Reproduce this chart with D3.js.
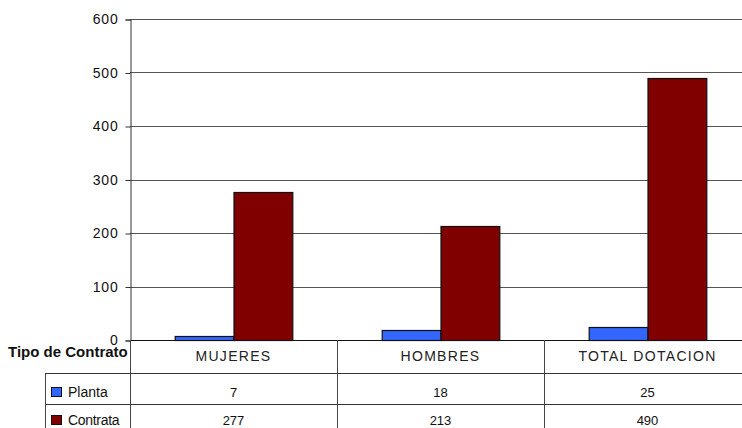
<!DOCTYPE html>
<html>
<head>
<meta charset="utf-8">
<script src="https://cdn.jsdelivr.net/npm/d3@7"></script>
<style>
body { margin: 0; background: #fff; }
svg { font-family: "Liberation Sans", Arial, sans-serif; }
</style>
</head>
<body>
<script>
var categories = ["MUJERES", "HOMBRES", "TOTAL DOTACION"];
var series = ["Planta", "Contrata"];
var planta = [7, 18, 25];
var contrata = [277, 213, 490];
var yTicks = [0, 100, 200, 300, 400, 500, 600];
var colors = ["#3366ff", "#800000"];

var W = 742, H = 428;
var margin = {l: 130, t: 19, r: -9};
var plotBottom = 340;

var svg = d3.select("body").append("svg")
    .attr("width", W)
    .attr("height", H);

var x = d3.scaleBand()
    .domain(categories)
    .range([margin.l, W - margin.r]);

var xi = d3.scaleBand()
    .domain(series)
    .range([0, x.bandwidth()])
    .paddingInner(0)
    .paddingOuter(0.76);

var y = d3.scaleLinear()
    .domain([0, 600])
    .range([plotBottom, margin.t]);

// gridlines
svg.append("g").selectAll("line")
    .data(yTicks.slice(1))
    .enter()
    .append("line")
    .attr("x1", margin.l)
    .attr("x2", W)
    .attr("y1", function (d) { return Math.round(y(d)) + 0.5 })
    .attr("y2", function (d) { return Math.round(y(d)) + 0.5 })
    .style("stroke", "#555")
    .style("stroke-width", 1);

// y axis
var yAxis = svg.append("g")
    .attr("transform", "translate(" + (margin.l + 0.5) + ",0.5)")
    .call(d3.axisLeft(y).tickValues(yTicks).tickSize(5).tickPadding(7));
yAxis.select(".domain").attr("stroke", "#333");
yAxis.selectAll(".tick line").attr("stroke", "#333");
yAxis.selectAll("text")
    .style("font-size", "14px")
    .style("letter-spacing", "0.8px")
    .style("fill", "#111")
    .attr("font-family", null);

// bars
var data = categories.map(function (c, i) {
    return {cat: c, vals: [planta[i], contrata[i]]};
});

var groups = svg.append("g").selectAll("g")
    .data(data)
    .enter()
    .append("g")
    .attr("transform", function (d) { return "translate(" + x(d.cat) + ",0)" });

groups.selectAll("rect")
    .data(function (d) { return d.vals.map(function (v, j) { return {s: series[j], v: v, j: j} }) })
    .enter()
    .append("rect")
    .attr("x", function (d) { return xi(d.s) + 0.5 })
    .attr("y", function (d) { return Math.round(y(d.v)) + 0.5 })
    .attr("width", xi.bandwidth())
    .attr("height", function (d) { return plotBottom - Math.round(y(d.v)) })
    .attr("fill", function (d) { return colors[d.j] })
    .attr("stroke", "#111")
    .attr("stroke-width", 1.2);

// data table
var rowTop = [340, 373, 404, 435];
var tableLeft = 45;

var tbl = svg.append("g");

// horizontal lines
tbl.append("line")
    .attr("x1", margin.l).attr("x2", W)
    .attr("y1", rowTop[0] + 0.5).attr("y2", rowTop[0] + 0.5)
    .style("stroke", "#111");
[1, 2].forEach(function (r) {
    tbl.append("line")
        .attr("x1", tableLeft).attr("x2", W)
        .attr("y1", rowTop[r] + 0.5).attr("y2", rowTop[r] + 0.5)
        .style("stroke", "#333");
});
// vertical lines
tbl.append("line")
    .attr("x1", tableLeft + 0.5).attr("x2", tableLeft + 0.5)
    .attr("y1", rowTop[1]).attr("y2", H)
    .style("stroke", "#444");
tbl.append("line")
    .attr("x1", margin.l + 0.5).attr("x2", margin.l + 0.5)
    .attr("y1", rowTop[0]).attr("y2", H)
    .style("stroke", "#444");
tbl.selectAll(".vsep")
    .data(categories.slice(1))
    .enter()
    .append("line")
    .attr("class", "vsep")
    .attr("x1", function (d) { return Math.round(x(d)) + 0.5 })
    .attr("x2", function (d) { return Math.round(x(d)) + 0.5 })
    .attr("y1", rowTop[0]).attr("y2", H)
    .style("stroke", "#444");

// header texts
tbl.selectAll(".hdr")
    .data(categories)
    .enter()
    .append("text")
    .attr("class", "hdr")
    .attr("x", function (d) { return x(d) + x.bandwidth() / 2 })
    .attr("y", 361)
    .attr("text-anchor", "middle")
    .style("font-size", "14px")
    .style("letter-spacing", "1.3px")
    .style("fill", "#222")
    .text(function (d) { return d });

tbl.append("text")
    .attr("x", 8)
    .attr("y", 357)
    .style("font-size", "15px")
    .style("font-weight", "bold")
    .style("fill", "#111")
    .text("Tipo de Contrato");

// series rows
var rowBase = [397, 425];
rowBase.forEach(function (base, r) {
    var vals = r === 0 ? planta : contrata;
    tbl.append("rect")
        .attr("x", 51.5)
        .attr("y", base - 9.5)
        .attr("width", 10)
        .attr("height", 9)
        .attr("fill", colors[r])
        .attr("stroke", "#111");
    tbl.append("text")
        .attr("x", 68)
        .attr("y", base)
        .style("font-size", "14px")
        .style("letter-spacing", r === 1 ? "-0.3px" : "0px")
        .style("fill", "#111")
        .text(series[r]);
    tbl.selectAll(".v" + r)
        .data(vals)
        .enter()
        .append("text")
        .attr("class", "v" + r)
        .attr("x", function (d, i) { return x(categories[i]) + x.bandwidth() / 2 })
        .attr("y", base)
        .attr("text-anchor", "middle")
        .style("font-size", "13px")
        .style("fill", "#111")
        .text(function (d) { return d });
});
</script>
</body>
</html>
